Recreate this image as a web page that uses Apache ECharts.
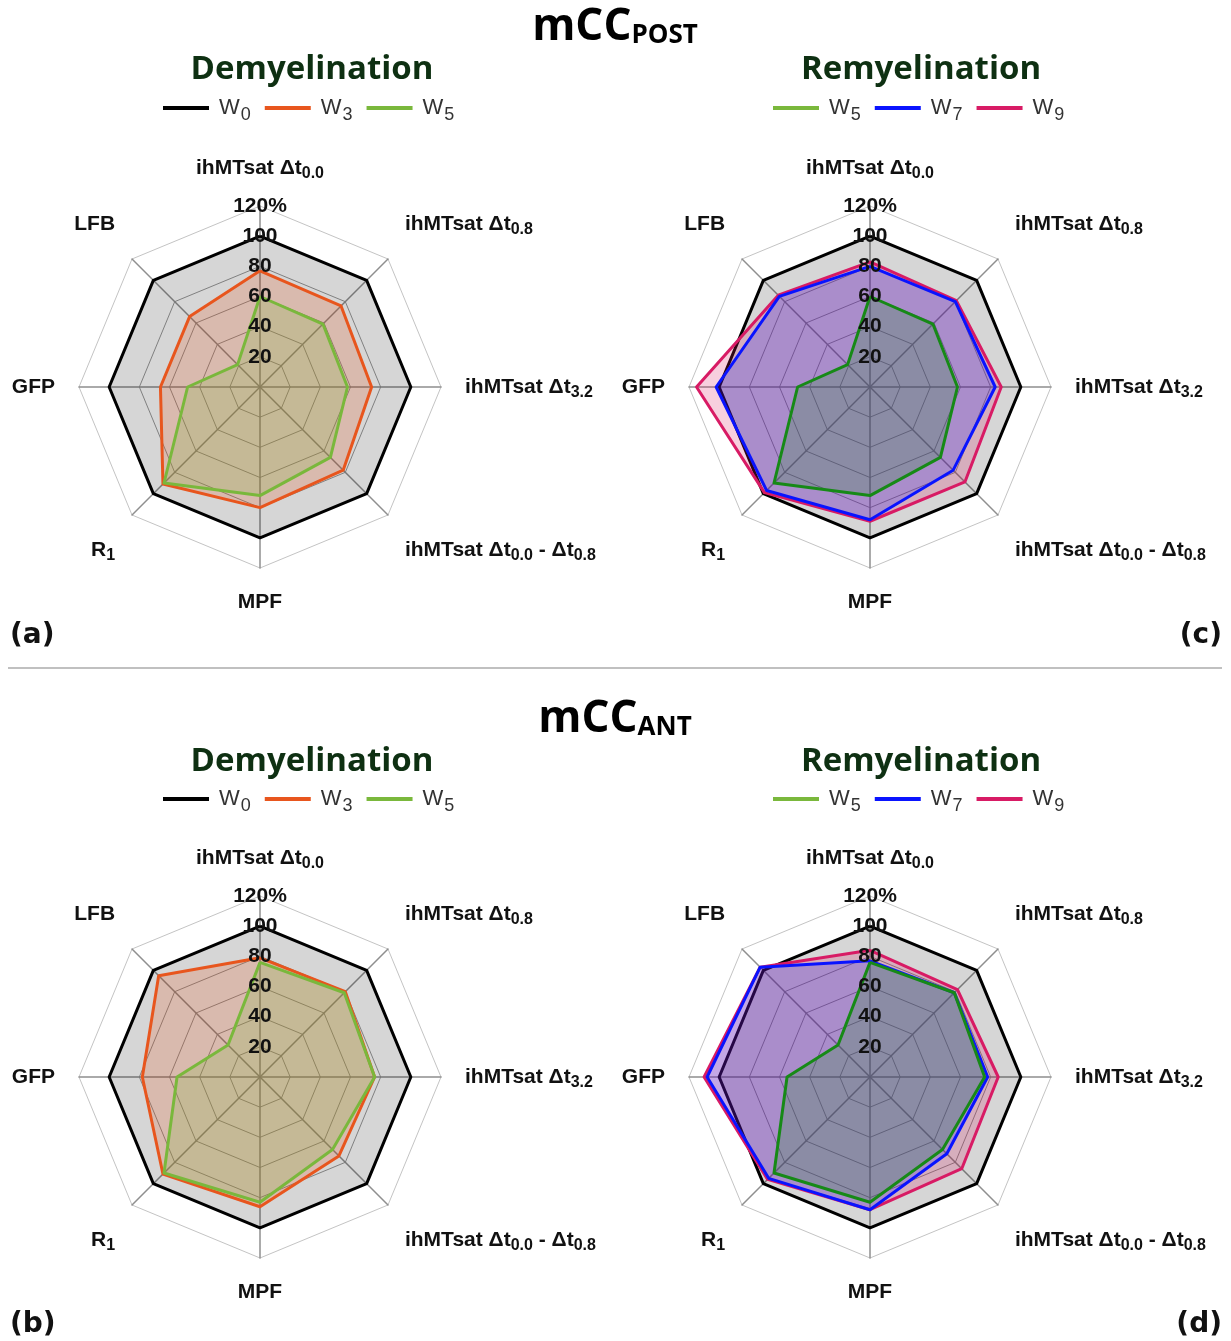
<!DOCTYPE html>
<html><head><meta charset="utf-8">
<script src="https://cdn.jsdelivr.net/npm/echarts@6/dist/echarts.min.js"></script>
<style>html,body{margin:0;padding:0;background:#fff}#c{width:1231px;height:1341px}</style>
</head><body><div id="c"></div>
<script>
// Axes listed clockwise from the top
const categories = ['ihMTsat Δt0.0', 'ihMTsat Δt0.8', 'ihMTsat Δt3.2', 'ihMTsat Δt0.0 - Δt0.8', 'MPF', 'R1', 'GFP', 'LFB'];
const tickLabels = ['', '20', '40', '60', '80', '100', '120%'];
const axisMax = 120;

// mCC POST
const postW0 = [100, 100, 100, 100, 100, 100, 100, 100];
const postW3 = [77, 76, 74, 78, 80, 91, 66, 66];
const postW5 = [60, 59, 58, 66, 72, 90, 48, 21];
const postW7 = [80, 80, 83, 78, 88, 97, 102, 85];
const postW9 = [83, 81, 87, 89, 89, 99, 115, 86];
// mCC ANT
const antW0 = [100, 100, 100, 100, 100, 100, 100, 100];
const antW3 = [79, 80, 76, 74, 86, 91, 78, 95];
const antW5 = [76, 79, 76, 68, 83, 90, 55, 30];
const antW7 = [77, 79, 78, 72, 88, 95, 108, 103];
const antW9 = [84, 82, 85, 86, 88, 96, 110, 103];

const demyelWeeks = ['W0', 'W3', 'W5'];
const remyelWeeks = ['W5', 'W7', 'W9'];

const C = {
  W0: '#000000', W3: '#e8561e', W5: '#7ab83c', W5dark: '#178a17', W7: '#0a14ff', W9: '#d81b65'
};
function rgba(hex, a) {
  const n = parseInt(hex.slice(1), 16);
  return 'rgba(' + (n >> 16 & 255) + ',' + (n >> 8 & 255) + ',' + (n & 255) + ',' + a + ')';
}
// ECharts places indicators counter-clockwise; reorder clockwise lists
const ccw = a => [a[0]].concat(a.slice(1).reverse());

const nameFont = 'Liberation Sans';
// diagonal names sit a little further from the axis vertically
const upperDiag = ['ihMTsat Δt0.8', 'LFB'];
const lowerDiag = ['ihMTsat Δt0.0 - Δt0.8', 'R1'];
function fmtName(n) {
  let t = n.replace(/Δt(\d\.\d)/g, 'Δt{s|$1}').replace(/^R(\d)$/, 'R{s|$1}');
  if (upperDiag.indexOf(n) >= 0) t = t + '\n{g| }';
  if (lowerDiag.indexOf(n) >= 0) t = '{g| }\n' + t;
  return t;
}
const centers = [[260, 387], [870, 387], [260, 1077], [870, 1077]];
const R = 181;

function mainRadar(center) {
  return {
    center: center, radius: R, startAngle: 90, shape: 'polygon', splitNumber: 6,
    indicator: ccw(categories).map(n => ({ name: n, min: 0, max: axisMax })),
    nameGap: 24,
    axisName: {
      formatter: fmtName, color: '#111', fontFamily: nameFont, fontWeight: 'bold', fontSize: 21,
      rich: {
        s: { fontSize: 16, fontWeight: 'bold', fontFamily: nameFont, color: '#111', padding: [12, 0, 0, 0] },
        g: { fontSize: 10, lineHeight: 36 }
      }
    },
    axisLine: { lineStyle: { color: '#8f8f8f', width: 1.5 } },
    splitLine: { lineStyle: { color: ['#999', '#999', '#999', '#999', '#999', '#999', '#c4c4c4'], width: 1 } },
    splitArea: { show: false },
    axisTick: { show: false },
    axisLabel: { show: false }
  };
}
function labelRadar(center) {
  return {
    center: center, radius: R, startAngle: 90, shape: 'polygon', splitNumber: 6, z: 10,
    indicator: ccw(categories).map((n, i) => {
      const o = { name: n, min: 0, max: axisMax };
      if (i === 0) o.axisLabel = { show: true };
      return o;
    }),
    axisName: { show: false },
    axisLine: { show: false }, splitLine: { show: false }, splitArea: { show: false }, axisTick: { show: false },
    axisLabel: {
      show: false, margin: 0, align: 'center', verticalAlign: 'middle',
      fontFamily: nameFont, fontWeight: 'bold', fontSize: 21, color: '#111', padding: [0, 0, 11, 0],
      formatter: (v, i) => tickLabels[i]
    }
  };
}

function ser(radarIndex, name, values, color, alpha) {
  return {
    type: 'radar', radarIndex: radarIndex, name: name, symbol: 'none', silent: true,
    lineStyle: { color: color, width: 3 }, itemStyle: { color: color },
    areaStyle: { color: rgba(color, alpha) },
    data: [{ name: name, value: ccw(values) }]
  };
}

const series = [
  ser(0, 'W0', postW0, C.W0, 0.23), ser(0, 'W3', postW3, C.W3, 0.3), ser(0, 'W5', postW5, C.W5, 0.3),
  ser(1, 'W0', postW0, C.W0, 0.23), ser(1, 'W9', postW9, C.W9, 0.3), ser(1, 'W7', postW7, C.W7, 0.3), ser(1, 'W5', postW5, C.W5dark, 0.3),
  ser(2, 'W0', antW0, C.W0, 0.23), ser(2, 'W3', antW3, C.W3, 0.3), ser(2, 'W5', antW5, C.W5, 0.3),
  ser(3, 'W0', antW0, C.W0, 0.23), ser(3, 'W9', antW9, C.W9, 0.3), ser(3, 'W7', antW7, C.W7, 0.3), ser(3, 'W5', antW5, C.W5dark, 0.3)
];

function legend(left, top, weeks) {
  return {
    left: left, top: top, icon: 'rect', itemWidth: 46, itemHeight: 4, itemGap: 14, selectedMode: false,
    data: weeks.map(w => ({ name: w, itemStyle: { color: C[w], borderWidth: 0 } })),
    formatter: n => '{w|W}{s|' + n.slice(1) + '}',
    textStyle: {
      color: '#333', fontFamily: 'Liberation Sans', fontSize: 22,
      rich: {
        w: { fontSize: 22, color: '#333', fontFamily: 'Liberation Sans', padding: [0, 0, 0, 5] },
        s: { fontSize: 18, color: '#333', fontFamily: 'Liberation Sans', padding: [14, 0, 0, 1] }
      }
    }
  };
}

function titleText(main, sub, y) {
  return {
    type: 'text', x: 615, y: y, silent: true,
    style: {
      text: '{m|' + main + '}{p|' + sub + '}', align: 'center', verticalAlign: 'middle',
      rich: {
        m: { fontFamily: 'Open Sans', fontWeight: 'bold', fontSize: 44, fill: '#000' },
        p: { fontFamily: 'Open Sans', fontWeight: 'bold', fontSize: 26, fill: '#000', padding: [18, 0, 0, 0] }
      }
    }
  };
}
function subTitle(text, x, y) {
  return {
    type: 'text', x: x, y: y, silent: true,
    style: { text: text, align: 'center', verticalAlign: 'middle', fontFamily: 'Open Sans', fontWeight: 'bold', fontSize: 33, fill: '#0e3012' }
  };
}
function panelLabel(text, x, y, align) {
  return {
    type: 'text', x: x, y: y, silent: true,
    style: { text: text, align: align, verticalAlign: 'middle', fontFamily: 'DejaVu Sans', fontWeight: 'bold', fontSize: 28, fill: '#111' }
  };
}

const option = {
  animation: false,
  backgroundColor: '#fff',
  radar: centers.map(mainRadar).concat(centers.map(labelRadar)),
  legend: [
    legend(158, 92, demyelWeeks), legend(768, 92, remyelWeeks),
    legend(158, 783, demyelWeeks), legend(768, 783, remyelWeeks)
  ],
  series: series,
  graphic: [
    titleText('mCC', 'POST', 27), titleText('mCC', 'ANT', 719),
    subTitle('Demyelination', 312, 70), subTitle('Remyelination', 921, 70),
    subTitle('Demyelination', 312, 762), subTitle('Remyelination', 921, 762),
    panelLabel('(a)', 10, 636, 'left'), panelLabel('(c)', 1222, 636, 'right'),
    panelLabel('(b)', 10, 1325, 'left'), panelLabel('(d)', 1222, 1325, 'right'),
    { type: 'line', silent: true, shape: { x1: 8, y1: 668, x2: 1222, y2: 668 }, style: { stroke: '#c0c0c0', lineWidth: 2 } }
  ]
};
const chart = echarts.init(document.getElementById('c'), null, { renderer: 'canvas' });
chart.setOption(option);
</script>
</body></html>
